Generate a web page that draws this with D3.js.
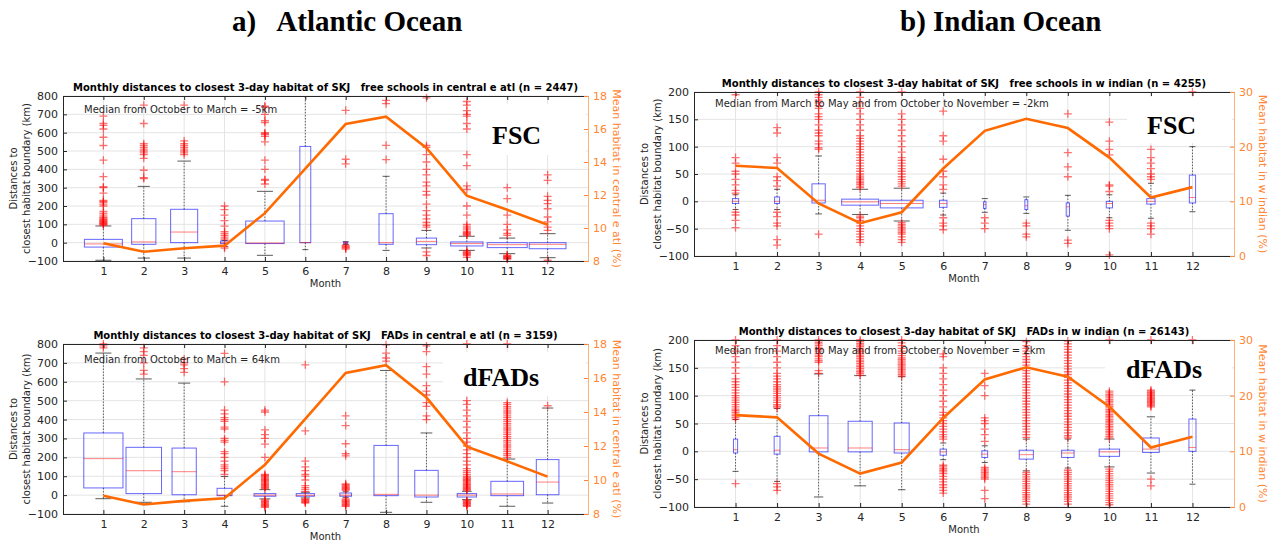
<!DOCTYPE html>
<html>
<head>
<meta charset="utf-8">
<script src="https://cdn.jsdelivr.net/npm/d3@7"></script>
<style>
  body { margin: 0; background: #fff; }
  svg { display: block; }
</style>
</head>
<body>
<svg id="chart" width="1282" height="547"></svg>
<script>
// months on the x axis
const months = [1, 2, 3, 4, 5, 6, 7, 8, 9, 10, 11, 12];

// mean habitat (%) per month, right axis
const habAtl = [9.07, 8.56, 8.77, 8.93, 10.9, 13.6, 16.3, 16.75, 14.85, 11.96, 11.1, 10.2];
const habInd = [16.5, 16.1, 9.6, 6.0, 8.0, 16.0, 22.9, 25.1, 23.4, 18.0, 10.7, 12.6];

// box stats per month: [whisker low, q1, median, q3, whisker high, box width (months)]
const atlFscStats = [
    [-96, -24, -7, 18, 91, 0.94],
    [-84, -9, 4, 131, 307, 0.6],
    [-84, 0, 58, 182, 445, 0.67],
    [-20, -5, 0, 9, 12, 0.2],
    [-69, -5, -2, 118, 280, 0.95],
    [-38, 0, 0, 525, 900, 0.27],
    [-10, -5, 0, 3, 5, 0.1],
    [-42, -9, 0, 158, 362, 0.35],
    [-29, -11, 7, 25, 67, 0.5],
    [-42, -18, -5, 4, 35, 0.8],
    [-60, -27, -11, 0, 25, 0.99],
    [-82, -33, -9, 0, 49, 0.91]
];
const atlFadStats = [
    [-19, 38, 193, 329, 752, 0.97],
    [-38, 8, 129, 253, 615, 0.88],
    [-35, 2, 124, 249, 593, 0.6],
    [-59, -3, 0, 36, 99, 0.37],
    [-20, -6, 0, 8, 29, 0.54],
    [-15, -6, -1, 8, 15, 0.45],
    [-12, -6, 0, 11, 18, 0.29],
    [-91, -3, 4, 263, 660, 0.6],
    [-38, -10, 0, 131, 329, 0.58],
    [-24, -10, 0, 8, 20, 0.48],
    [-59, -3, 6, 73, 191, 0.81],
    [-42, 2, 69, 188, 461, 0.56]
];
const indFscStats = [
    [-15, -4, 0, 5, 12, 0.15],
    [-15, -4, 0, 8, 22, 0.12],
    [-23, -3, 2, 32, 83, 0.32],
    [-24, -7, -1, 4, 22, 0.89],
    [-36, -12, -4, 2, 24, 1.03],
    [-25, -11, -4, 2, 15, 0.18],
    [-20, -13, -6, -1, 5, 0.06],
    [-22, -15, -8, 3, 8, 0.07],
    [-53, -27, -10, -3, 11, 0.08],
    [-30, -12, -4, 0, 12, 0.15],
    [-31, -5, 0, 5, 33, 0.2],
    [-19, -3, 7, 48, 100, 0.15]
];
const indFadStats = [
    [-36, -3, 3, 22, 57, 0.1],
    [-54, -5, 2, 27, 77, 0.14],
    [-82, -1, 6, 64, 139, 0.45],
    [-62, -1, 6, 54, 136, 0.58],
    [-69, -3, 3, 51, 134, 0.36],
    [-15, -7, -1, 4, 15, 0.15],
    [-20, -11, -5, 1, 10, 0.14],
    [-35, -14, -6, 2, 22, 0.34],
    [-30, -11, -3, 2, 22, 0.3],
    [-28, -9, -1, 4, 22, 0.49],
    [-39, -2, 4, 24, 62, 0.4],
    [-59, 0, 7, 58, 110, 0.17]
];

// outliers (km) per month
const atlFscOut = [
    [95, 100, 103, 106, 110, 114, 118, 122, 126, 130, 135, 140, 150, 160, 170, 200, 210, 220, 225, 230, 270, 300, 305, 360, 450, 530, 575, 620, 640, 650, 690],
    [350, 355, 395, 460, 480, 490, 500, 510, 520, 530, 540, 650, 750],
    [480, 490, 500, 510, 520, 530, 540, 555, 750],
    [-30, -22, 20, 30, 40, 50, 60, 90, 120, 150, 180, 200],
    [320, 340, 345, 400, 450, 550, 580, 590, 595, 600, 655, 665, 700, 740, 745],
    [],
    [-15, -20, -25, -30, -35, 430, 455, 722],
    [453, 531, 758, 776],
    [-70, -50, 85, 95, 110, 130, 150, 175, 210, 260, 280, 310, 330, 370, 400, 440, 480, 520, 530, 790],
    [-80, -70, -65, -60, -55, -50, -45, 40, 45, 50, 55, 60, 70, 80, 90, 100, 150, 200, 290, 310, 420, 480, 620, 650, 690, 700, 720, 750, 770],
    [-90, -87, -84, -81, -78, -75, -72, -68, 40, 50, 70, 100, 150, 240, 300],
    [-96, 67, 85, 113, 140, 185, 213, 231, 253, 340, 370]
];
const atlFadOut = [
    [780, 790, 800],
    [640, 660, 700, 740, 760, 780],
    [650, 670, 690, 700, 720],
    [110, 130, 140, 150, 160, 180, 200, 220, 230, 280, 290, 300, 350, 360, 390, 400, 410, 430, 450, 600, 750],
    [-65, -60, -55, -50, -45, -40, -35, -30, -25, 35, 40, 45, 50, 55, 60, 65, 70, 75, 80, 85, 90, 95, 100, 105, 110, 200, 270, 300, 320, 345, 440, 450],
    [-42, -38, -34, -30, -26, -22, 20, 30, 40, 50, 80, 100, 110, 130, 150, 180, 340, 690],
    [-60, -55, -50, -45, -40, -35, -30, -25, -20, 25, 30, 35, 40, 45, 50, 55, 60, 208, 219, 272, 368, 420],
    [709, 726, 752, 796],
    [400, 420, 470, 490, 530, 550, 580, 640, 680, 760, 790],
    [-60, -56, -52, -48, -44, -40, -36, -32, -28, 25, 30, 35, 40, 45, 50, 55, 60, 65, 70, 75, 80, 85, 90, 95, 100, 110, 120, 130, 140, 160, 180, 200, 220, 240, 260, 280, 300, 330, 360, 390, 420, 450, 480, 500, 800],
    [200, 210, 220, 230, 240, 250, 260, 270, 280, 290, 300, 310, 320, 330, 340, 350, 360, 370, 380, 390, 400, 410, 420, 430, 440, 450, 460, 470, 480, 490, 800],
    [473]
];
const indFscOut = [
    [-48, -35, -25, -20, 15, 20, 30, 40, 50, 55, 70, 80, 195],
    [-80, -70, -45, -40, -28, -20, 28, 38, 45, 70, 80, 125, 135],
    [-60, 95, 98, 105, 110, 120, 125, 130, 140, 150, 155, 160, 170, 175, 180, 185, 190, 195, 200],
    [-75, -70, -65, -60, -55, -50, -45, -40, -35, -30, -27, 25, 28, 31, 34, 37, 40, 43, 46, 50, 55, 60, 65, 70, 75, 80, 85, 90, 95, 100, 105, 110, 115, 120, 130, 140, 150, 160, 170, 180, 190, 200],
    [-75, -70, -65, -60, -57, -54, -51, -48, -45, -42, -39, 28, 32, 36, 40, 45, 50, 55, 60, 65, 70, 75, 80, 90, 100, 110, 120, 130, 140, 150, 160, 200],
    [-52, -45, -40, -30, 22, 30, 45, 55, 77, 110, 120, 165],
    [-50, -40, -30],
    [-65, -60, -45, -40],
    [-77, -71, 45, 63, 89, 160],
    [-98, -50, -45, -40, -35, 18, 28, 30, 85, 95, 110, 145],
    [-60, -50, -45, -40, 40, 45, 50, 60, 70, 80, 95],
    [200]
];
const indFadOut = [
    [-58, 58, 61, 64, 67, 70, 73, 76, 80, 84, 88, 92, 96, 100, 105, 110, 115, 120, 125, 130, 140, 150, 160, 170, 180, 190, 200],
    [-70, -64, -58, 78, 81, 84, 88, 92, 96, 100, 104, 108, 112, 116, 120, 125, 130, 135, 140, 150, 160, 170, 180, 190, 200],
    [140, 145, 160, 163, 166, 170, 173, 176, 180, 183, 186, 190, 193, 196, 200],
    [137, 140, 143, 146, 149, 152, 155, 158, 161, 164, 167, 170, 173, 176, 179, 182, 185, 188, 191, 194, 197, 200],
    [135, 138, 141, 144, 147, 150, 153, 156, 159, 162, 165, 168, 172, 176, 180, 185, 190, 195, 200],
    [-75, -70, -65, -60, -55, -50, -45, -40, -37, -34, -31, -28, -25, 22, 26, 30, 35, 40, 45, 50, 55, 60, 65, 70, 80, 90, 100, 110, 120, 130, 140, 150, 170, 175],
    [-85, -70, -50, -47, -44, -41, -38, -35, -32, -29, 18, 30, 40, 50, 55, 60, 100, 118, 140],
    [-95, -90, -86, -82, -78, -74, -70, -66, -62, -58, -54, -50, -46, -42, -38, 25, 30, 35, 40, 45, 50, 55, 60, 65, 70, 75, 80, 85, 90, 95, 100, 105, 110, 115, 120, 125, 130, 135, 140, 145, 150, 155, 160, 165, 170, 175, 180, 185, 190, 197],
    [-95, -90, -86, -82, -78, -74, -70, -66, -62, -58, -54, -50, -46, -42, -38, -34, 24, 28, 33, 38, 43, 48, 53, 58, 63, 68, 73, 78, 83, 88, 93, 98, 103, 108, 113, 118, 123, 128, 133, 138, 143, 148, 153, 158, 163, 168, 173, 178, 183, 188, 193, 198],
    [-96, -92, -88, -84, -80, -76, -72, -68, -64, -60, -56, -52, -48, -44, -40, -36, -32, 24, 27, 30, 33, 36, 39, 42, 45, 48, 51, 54, 57, 60, 63, 66, 69, 72, 75, 78, 81, 84, 87, 90, 93, 96, 99, 102, 105, 108, 200],
    [-62, -50, 80, 82, 84, 86, 88, 90, 92, 94, 96, 98, 100, 102, 104, 106, 108, 110, 200],
    [200]
];

// axis ticks
const atlTicks = [-100, 0, 100, 200, 300, 400, 500, 600, 700, 800];
const indTicks = [-100, -50, 0, 50, 100, 150, 200];
const atlHabTicks = [8, 10, 12, 14, 16, 18];
const indHabTicks = [0, 10, 20, 30];

const FONT = "DejaVu Sans, Verdana, sans-serif";
const SERIF = "Liberation Serif, Times New Roman, serif";
const DARK = "#262626";
const ORANGE = "#ff6a00";
const ORANGE_AX = "#ff8533";

const svg = d3.select("#chart");

// panel headers
svg.append("text").attr("x", 232).attr("y", 31)
    .style("white-space", "pre")
    .attr("font-family", SERIF).attr("font-weight", "bold").attr("font-size", "29px")
    .text("a)   Atlantic Ocean");
svg.append("text").attr("x", 900).attr("y", 31)
    .attr("font-family", SERIF).attr("font-weight", "bold").attr("font-size", "29px")
    .text("b) Indian Ocean");

function drawPanel(p) {
    let g = svg.append("g");
    let x = d3.scaleLinear().domain([0, 13]).range([p.x0, p.x1]);
    let y = d3.scaleLinear().domain(p.yDomain).range([p.y1, p.y0]);
    let yr = d3.scaleLinear().domain(p.rDomain).range([p.y1, p.y0]);
    let step = x(1) - x(0);

    let clipId = "clip_" + p.id;
    svg.append("clipPath").attr("id", clipId).append("rect")
        .attr("x", p.x0).attr("y", p.y0)
        .attr("width", p.x1 - p.x0).attr("height", p.y1 - p.y0);

    // grid
    g.append("g").selectAll("line").data(p.yTicks).join("line")
        .attr("x1", p.x0).attr("x2", p.x1)
        .attr("y1", d => y(d)).attr("y2", d => y(d))
        .attr("stroke", "#e4e4e4");
    g.append("g").selectAll("line").data(months).join("line")
        .attr("x1", d => x(d)).attr("x2", d => x(d))
        .attr("y1", p.y0).attr("y2", p.y1)
        .attr("stroke", "#e4e4e4");

    // white patch behind the FSC / dFADs tag
    g.append("rect")
        .attr("x", p.tagBox[0]).attr("y", p.tagBox[1])
        .attr("width", p.tagBox[2]).attr("height", p.tagBox[3])
        .attr("fill", "#fff");

    // boxes
    let bx = g.append("g").attr("clip-path", "url(#" + clipId + ")");
    p.stats.forEach(function (s, i) {
        let [lo, q1, med, q3, hi, w] = s;
        let cx = x(months[i]);
        let bw = w * step;
        let cw = Math.max(6, Math.min(16, bw * 0.5));

        bx.append("line").attr("x1", cx).attr("x2", cx).attr("y1", y(q3)).attr("y2", y(hi))
            .attr("stroke", "#000").attr("stroke-opacity", 0.6).attr("stroke-dasharray", "1.5,1.5");
        bx.append("line").attr("x1", cx).attr("x2", cx).attr("y1", y(q1)).attr("y2", y(lo))
            .attr("stroke", "#000").attr("stroke-opacity", 0.6).attr("stroke-dasharray", "1.5,1.5");
        [lo, hi].forEach(function (v) {
            bx.append("line").attr("x1", cx - cw / 2).attr("x2", cx + cw / 2)
                .attr("y1", y(v)).attr("y2", y(v))
                .attr("stroke", "#000").attr("stroke-opacity", 0.65);
        });
        bx.append("rect")
            .attr("x", cx - bw / 2).attr("y", y(q3))
            .attr("width", bw).attr("height", Math.max(1, y(q1) - y(q3)))
            .attr("fill", "none").attr("stroke", "#0000ff").attr("stroke-opacity", 0.6);
        bx.append("line").attr("x1", cx - bw / 2).attr("x2", cx + bw / 2)
            .attr("y1", y(med)).attr("y2", y(med))
            .attr("stroke", "#ff0000").attr("stroke-opacity", 0.5);
    });

    // outliers as + markers
    let pts = [];
    p.outliers.forEach(function (arr, i) {
        arr.forEach(function (v) {
            if (v >= p.yDomain[0] && v <= p.yDomain[1]) pts.push([months[i], v]);
        });
    });
    g.append("g").selectAll("path").data(pts).join("path")
        .attr("d", d => "M" + (x(d[0]) - 4) + "," + y(d[1]) + "h8M" + x(d[0]) + "," + (y(d[1]) - 4) + "v8")
        .attr("stroke", "#ff0000").attr("stroke-opacity", 0.55).attr("stroke-width", 1.3).attr("fill", "none");

    // mean habitat line
    g.append("path").datum(p.hab)
        .attr("d", d3.line().x((d, i) => x(months[i])).y(d => yr(d)))
        .attr("fill", "none").attr("stroke", ORANGE).attr("stroke-width", 2.6);

    // axes
    let left = g.append("g").attr("transform", "translate(" + p.x0 + ",0)")
        .call(d3.axisLeft(y).tickValues(p.yTicks).tickSizeInner(-4).tickSizeOuter(0).tickPadding(5));
    let bottom = g.append("g").attr("transform", "translate(0," + p.y1 + ")")
        .call(d3.axisBottom(x).tickValues(months).tickSizeInner(-4).tickSizeOuter(0).tickPadding(6));
    let top = g.append("g").attr("transform", "translate(0," + p.y0 + ")")
        .call(d3.axisTop(x).tickValues(months).tickSizeInner(-4).tickSizeOuter(0).tickFormat(""));
    [left, bottom, top].forEach(function (a) {
        a.select(".domain").attr("stroke", DARK);
        a.selectAll(".tick line").attr("stroke", DARK);
        a.selectAll("text").attr("fill", DARK).attr("font-family", FONT).attr("font-size", "11px");
    });
    let right = g.append("g").attr("transform", "translate(" + p.x1 + ",0)")
        .call(d3.axisRight(yr).tickValues(p.rTicks).tickSizeInner(-4).tickSizeOuter(0).tickPadding(5));
    right.select(".domain").attr("stroke", "#ffb27a");
    right.selectAll(".tick line").attr("stroke", ORANGE_AX);
    right.selectAll("text").attr("fill", ORANGE_AX).attr("font-family", FONT).attr("font-size", "11px");

    // texts
    g.append("text").attr("x", (p.x0 + p.x1) / 2).attr("y", p.y0 - 5)
        .attr("text-anchor", "middle").style("white-space", "pre")
        .attr("font-family", FONT).attr("font-weight", "bold").attr("font-size", "10px").attr("fill", "#000")
        .text(p.title);
    g.append("text").attr("x", p.x0 + 21).attr("y", p.medianY)
        .attr("font-family", FONT).attr("font-size", "10px").attr("fill", DARK)
        .text(p.medianText);
    g.append("text").attr("x", (p.x0 + p.x1) / 2).attr("y", p.y1 + 26)
        .attr("text-anchor", "middle")
        .attr("font-family", FONT).attr("font-size", "10px").attr("fill", DARK)
        .text("Month");

    let cy = (p.y0 + p.y1) / 2;
    g.append("text").attr("transform", "translate(" + (p.x0 - 46) + "," + cy + ")rotate(-90)")
        .attr("text-anchor", "middle")
        .attr("font-family", FONT).attr("font-size", "10px").attr("fill", DARK)
        .text("Distances to");
    g.append("text").attr("transform", "translate(" + (p.x0 - 33) + "," + cy + ")rotate(-90)")
        .attr("text-anchor", "middle")
        .attr("font-family", FONT).attr("font-size", "10px").attr("fill", DARK)
        .text("closest habitat boundary (km)");
    g.append("text").attr("transform", "translate(" + (p.x1 + 25) + "," + cy + ")rotate(90)")
        .attr("text-anchor", "middle")
        .attr("font-family", FONT).attr("font-size", "11px").attr("fill", ORANGE_AX)
        .text(p.rLabel);

    g.append("text").attr("x", p.tagX).attr("y", p.tagY)
        .attr("font-family", SERIF).attr("font-weight", "bold").attr("font-size", "26px").attr("fill", "#000")
        .text(p.tag);
}

drawPanel({
    id: "a1", x0: 63, x1: 588, y0: 96, y1: 261,
    yDomain: [-100, 800], yTicks: atlTicks, rDomain: [8, 18], rTicks: atlHabTicks,
    stats: atlFscStats, outliers: atlFscOut, hab: habAtl,
    title: "Monthly distances to closest 3-day habitat of SKJ   free schools in central e atl (n = 2447)",
    medianText: "Median from October to March = -5km", medianY: 113,
    rLabel: "Mean habitat in central e atl (%)",
    tag: "FSC", tagX: 492, tagY: 144, tagBox: [470, 104, 116, 51]
});
drawPanel({
    id: "b1", x0: 694, x1: 1234, y0: 92, y1: 256,
    yDomain: [-100, 200], yTicks: indTicks, rDomain: [0, 30], rTicks: indHabTicks,
    stats: indFscStats, outliers: indFscOut, hab: habInd,
    title: "Monthly distances to closest 3-day habitat of SKJ   free schools in w indian (n = 4255)",
    medianText: "Median from March to May and from October to November = -2km", medianY: 107,
    rLabel: "Mean habitat in w indian (%)",
    tag: "FSC", tagX: 1147, tagY: 134, tagBox: [1127, 97, 105, 46]
});
drawPanel({
    id: "a2", x0: 63, x1: 588, y0: 344, y1: 514,
    yDomain: [-100, 800], yTicks: atlTicks, rDomain: [8, 18], rTicks: atlHabTicks,
    stats: atlFadStats, outliers: atlFadOut, hab: habAtl,
    title: "Monthly distances to closest 3-day habitat of SKJ   FADs in central e atl (n = 3159)",
    medianText: "Median from October to March = 64km", medianY: 363,
    rLabel: "Mean habitat in central e atl (%)",
    tag: "dFADs", tagX: 463, tagY: 386, tagBox: [443, 352, 143, 44]
});
drawPanel({
    id: "b2", x0: 694, x1: 1234, y0: 340, y1: 507,
    yDomain: [-100, 200], yTicks: indTicks, rDomain: [0, 30], rTicks: indHabTicks,
    stats: indFadStats, outliers: indFadOut, hab: habInd,
    title: "Monthly distances to closest 3-day habitat of SKJ   FADs in w indian (n = 26143)",
    medianText: "Median from March to May and from October to November = 2km", medianY: 354,
    rLabel: "Mean habitat in w indian (%)",
    tag: "dFADs", tagX: 1126, tagY: 378, tagBox: [1105, 345, 127, 44]
});
</script>
</body>
</html>
